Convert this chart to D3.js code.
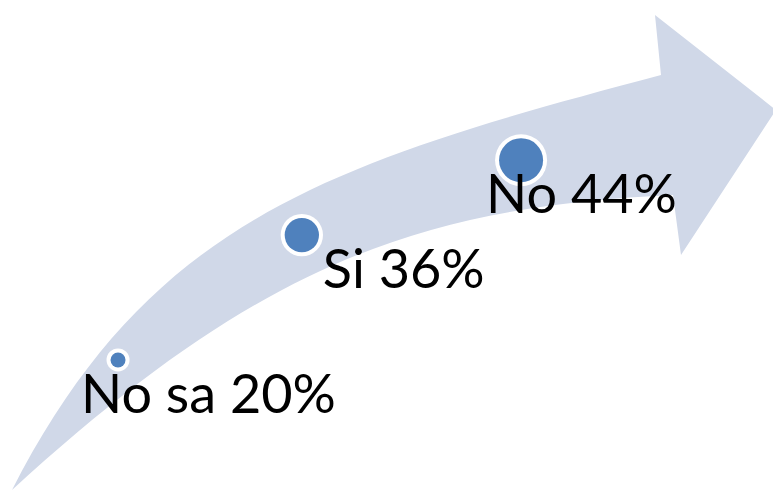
<!DOCTYPE html>
<html>
<head>
<meta charset="utf-8">
<script src="https://cdn.jsdelivr.net/npm/d3@7/dist/d3.min.js"></script>
<style>
  html, body { margin: 0; padding: 0; background: #ffffff; }
  svg { display: block; }
</style>
</head>
<body>
<div id="chart"></div>
<script>
// Survey answers, shown as stops along a rising arrow
const categories = ["No sa", "Si", "No"];
const percents = [20, 36, 44];

const width = 773, height = 492;

// Layout: where each stop sits along the arrow spine (fraction of its length)
const stopAlong = [0.19, 0.443, 0.706];
// Label anchor offsets relative to each stop
const labelDx = [-37, 21, -35];
const labelDy = 53;

const svg = d3.select("#chart").append("svg")
  .attr("width", width)
  .attr("height", height);

// Arrow outline: two cubic edges for the shaft, a straight-sided head
const outline = d3.path();
outline.moveTo(12, 490);
outline.bezierCurveTo(150, 220, 329, 163, 661, 75);   // upper edge of the shaft
outline.lineTo(655, 15);                             // head, upper barb
outline.lineTo(776, 110);                            // head tip
outline.lineTo(681, 255);                            // head, lower barb
outline.lineTo(673, 195);
outline.bezierCurveTo(420, 207, 260, 263, 12, 490);   // lower edge of the shaft
outline.closePath();

svg.append("path")
  .attr("d", outline.toString())
  .attr("fill", "#D0D8E8");

// Spine of the arrow used to place the stops
const spinePts = [[12, 490], [60, 425], [118, 360], [200, 290], [302, 235], [420, 185],
                  [522, 160], [620, 145], [667, 135], [776, 110]];
const spine = svg.append("path")
  .attr("d", d3.line().curve(d3.curveCatmullRom.alpha(0.5))(spinePts))
  .attr("fill", "none")
  .attr("stroke", "none");
const spineNode = spine.node();
const spineLen = spineNode.getTotalLength();

const r = d3.scaleLinear().domain(d3.extent(percents)).range([7.5, 22]);

const data = categories.map((c, i) => {
  const p = spineNode.getPointAtLength(spineLen * stopAlong[i]);
  return { label: c, value: percents[i], x: p.x, y: p.y, i };
});

const stop = svg.append("g").selectAll("g.stop").data(data).join("g")
  .attr("class", "stop")
  .attr("transform", d => `translate(${d.x},${d.y})`);

stop.append("circle")
  .attr("r", d => r(d.value) + 4)
  .attr("fill", "#ffffff");

stop.append("circle")
  .attr("r", d => r(d.value))
  .attr("fill", "#4F81BD");

stop.append("text")
  .attr("x", d => labelDx[d.i])
  .attr("y", labelDy)
  .attr("font-family", "Lato, 'Open Sans', sans-serif")
  .attr("font-size", 54)
  .attr("fill", "#000000")
  .text(d => `${d.label} ${d.value}%`);
</script>
</body>
</html>
